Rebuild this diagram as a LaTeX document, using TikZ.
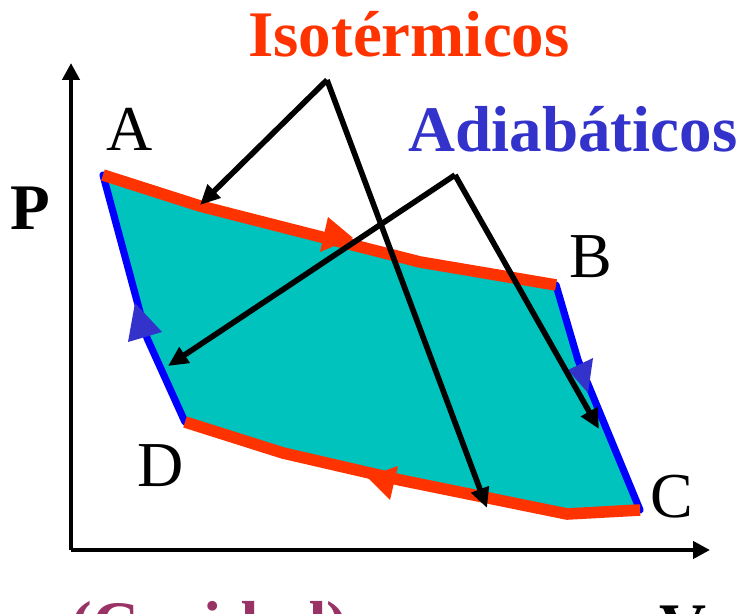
\documentclass[tikz,border=0pt]{standalone}
\usepackage{fontspec}
\setmainfont{Liberation Serif}
\usetikzlibrary{arrows.meta}

\definecolor{isored}{RGB}{255,51,0}
\definecolor{adiablue}{RGB}{0,0,255}
\definecolor{tipblue}{RGB}{51,51,204}
\definecolor{cavity}{RGB}{0,195,190}
\definecolor{plum}{RGB}{153,51,102}

\begin{document}
\begin{tikzpicture}[x=0.5pt,y=-0.5pt,
  iso/.style={line width=5.8pt, isored, line join=round},
  adia/.style={line width=3.6pt, adiablue, line join=round, line cap=round},
  pointer/.style={line width=2.8pt, -{Triangle[length=10pt,width=9pt]}},
  axis/.style={line width=2.2pt, -{Triangle[length=8.5pt,width=8.5pt]}},
  corner/.style={font=\fontsize{32}{38}\selectfont},
  title/.style={font=\fontsize{32.5}{38}\selectfont\bfseries}]
  \useasboundingbox (0,0) rectangle (737,614);
  % corners of the cycle
  \coordinate (A) at (103,175);
  \coordinate (B) at (556,285);
  \coordinate (C) at (640,510);
  \coordinate (D) at (185,422);
  % bends along the curves
  \coordinate (ab1) at (200,206);
  \coordinate (ab2) at (290,229);
  \coordinate (ab3) at (420,262);
  \coordinate (bc1) at (578,360);
  \coordinate (cd1) at (567,514);
  \coordinate (cd2) at (400,480);
  \coordinate (cd3) at (283,453);
  \coordinate (da1) at (147,338);

  \fill[cavity] (A) -- (ab1) -- (ab2) -- (ab3) -- (B) -- (bc1) -- (C)
    -- (cd1) -- (cd2) -- (cd3) -- (D) -- (da1) -- cycle;
  \draw[adia] (B) -- (bc1) -- (C);
  \draw[adia] (D) -- (da1) -- (A);
  \draw[iso] (A) -- (ab1) -- (ab2) -- (ab3) -- (B);
  \draw[iso] (C) -- (cd1) -- (cd2) -- (cd3) -- (D);

  % direction marks
  \fill[isored] (353,238) -- (328,217) -- (320,252) -- cycle;
  \fill[isored] (367,477) -- (398,466) -- (390,500) -- cycle;
  \fill[tipblue] (135,303) -- (162,332) -- (128,342) -- cycle;
  \fill[tipblue] (588,393) -- (568,370) -- (593,358) -- cycle;

  % axes
  \coordinate (O) at (71,550);
  \coordinate (xend) at (710,550);
  \coordinate (yend) at (71,63);
  \draw[axis] (O) -- (xend);
  \draw[axis] (O) -- (yend);
  \node[title] (P) at (30,208) {P};
  \node[title] (V) at (683,628) {V};

  \node[corner] (labA) at (130,129) {A};
  \node[corner] (labB) at (591,257) {B};
  \node[corner] (labC) at (672,497) {C};
  \node[corner] (labD) at (161,466) {D};

  % labels with pointers
  \node[title, isored, anchor=base] (iso) at (409,57) {Isotérmicos};
  \node[title, tipblue, anchor=base] (adi) at (573,152) {Adiabáticos};
  \coordinate (isoknee) at (327,80);
  \coordinate (isotop) at (200,205);
  \coordinate (isobot) at (487,508);
  \coordinate (adiknee) at (455,175);
  \coordinate (adileft) at (168,366);
  \coordinate (adiright) at (599,429);
  \draw[pointer] (isoknee) -- (isotop);
  \draw[pointer] (isoknee) -- (isobot);
  \draw[pointer] (adiknee) -- (adileft);
  \draw[pointer] (adiknee) -- (adiright);

  \node[title, plum, anchor=base west, inner sep=0pt] (cav) at (70,646) {(Cavidad)};
\end{tikzpicture}
\end{document}
